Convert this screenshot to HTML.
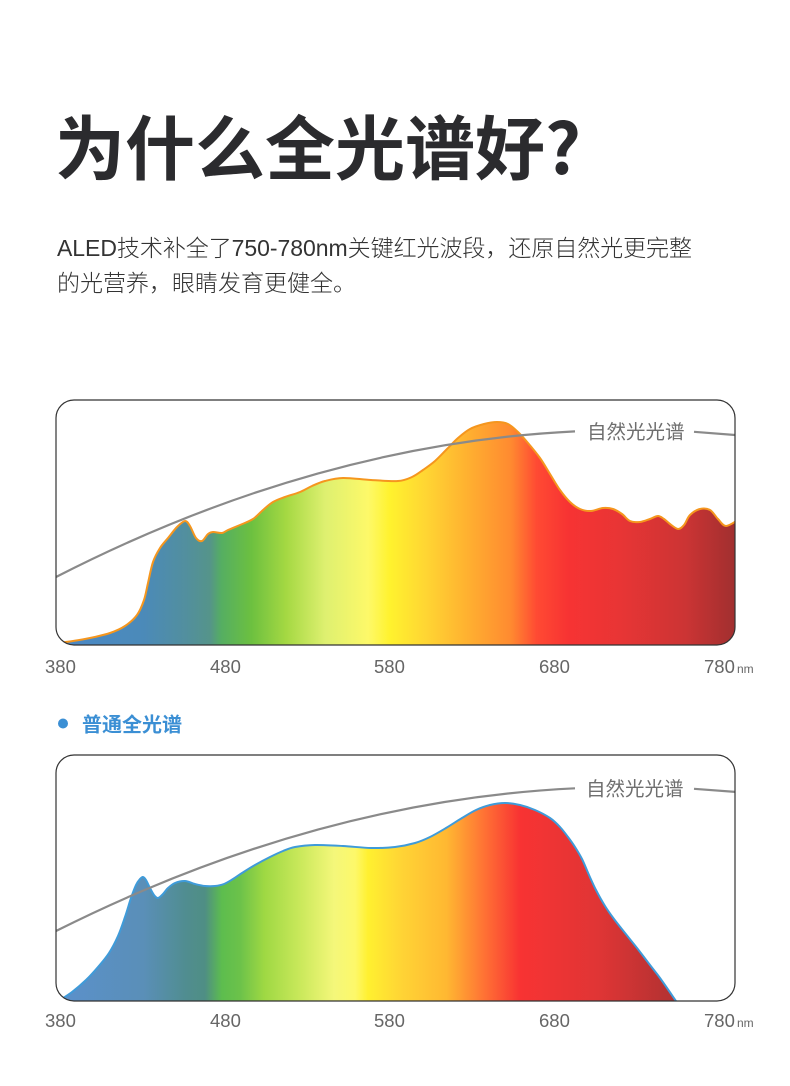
<!DOCTYPE html>
<html>
<head>
<meta charset="utf-8">
<style>
  html,body{margin:0;padding:0;background:#fff;}
  body{width:790px;height:1086px;overflow:hidden;}
  svg{display:block;}
  .cjk{font-family:"Liberation Sans","Noto Sans CJK SC",sans-serif;}
  .title{font-family:"Noto Sans CJK SC","Liberation Sans",sans-serif;font-weight:700;}
  .ax{font-family:"Liberation Sans","Noto Sans CJK SC",sans-serif;fill:#666;}
</style>
</head>
<body>
<svg width="790" height="1086" viewBox="0 0 790 1086" xmlns="http://www.w3.org/2000/svg">
  <defs>
    <linearGradient id="g1" gradientUnits="userSpaceOnUse" x1="56" y1="0" x2="736" y2="0">
      <stop offset="0" stop-color="#4a88c8"/>
      <stop offset="0.128" stop-color="#4b8ab9"/>
      <stop offset="0.191" stop-color="#528f9e"/>
      <stop offset="0.226" stop-color="#55948a"/>
      <stop offset="0.243" stop-color="#55ae62"/>
      <stop offset="0.287" stop-color="#6cc040"/>
      <stop offset="0.338" stop-color="#a4d842"/>
      <stop offset="0.396" stop-color="#def070"/>
      <stop offset="0.459" stop-color="#fdf969"/>
      <stop offset="0.491" stop-color="#fff22e"/>
      <stop offset="0.543" stop-color="#ffd633"/>
      <stop offset="0.606" stop-color="#ffb030"/>
      <stop offset="0.669" stop-color="#ff8a30"/>
      <stop offset="0.707" stop-color="#ff4a33"/>
      <stop offset="0.753" stop-color="#f73333"/>
      <stop offset="0.829" stop-color="#e83535"/>
      <stop offset="0.925" stop-color="#cc3434"/>
      <stop offset="1" stop-color="#a02f2f"/>
    </linearGradient>
    <linearGradient id="g2" gradientUnits="userSpaceOnUse" x1="56" y1="0" x2="736" y2="0">
      <stop offset="0" stop-color="#5b90cc"/>
      <stop offset="0.128" stop-color="#5a8fb8"/>
      <stop offset="0.191" stop-color="#508d90"/>
      <stop offset="0.219" stop-color="#4f8e84"/>
      <stop offset="0.244" stop-color="#5dbd4e"/>
      <stop offset="0.271" stop-color="#6cc24a"/>
      <stop offset="0.306" stop-color="#9ed843"/>
      <stop offset="0.357" stop-color="#c8e85a"/>
      <stop offset="0.409" stop-color="#f4f77a"/>
      <stop offset="0.44" stop-color="#fdf86a"/>
      <stop offset="0.459" stop-color="#fff030"/>
      <stop offset="0.51" stop-color="#ffd335"/>
      <stop offset="0.574" stop-color="#ffb832"/>
      <stop offset="0.631" stop-color="#ff7034"/>
      <stop offset="0.682" stop-color="#f83333"/>
      <stop offset="0.797" stop-color="#e03535"/>
      <stop offset="0.893" stop-color="#b83232"/>
      <stop offset="1" stop-color="#a02f2f"/>
    </linearGradient>
    <clipPath id="c1"><rect x="56" y="400" width="679" height="245" rx="18" ry="18"/></clipPath>
    <clipPath id="c2"><rect x="56" y="755" width="679" height="246" rx="18" ry="18"/></clipPath>
  </defs>

  <!-- Title -->
  <text class="title" x="55" y="174" font-size="70" fill="#2b2b2e">为什么全光谱好?</text>

  <!-- Paragraph -->
  <text class="cjk" x="57" y="256" font-size="23" font-weight="300" fill="#333" textLength="635" lengthAdjust="spacing">ALED技术补全了750-780nm关键红光波段，还原自然光更完整</text>
  <text class="cjk" x="57" y="291" font-size="23" font-weight="300" fill="#333">的光营养，眼睛发育更健全。</text>

  <!-- Chart 1 -->
  <g clip-path="url(#c1)">
    <path id="f1" fill="url(#g1)" d="M56,646 L58,643 L738,520 L738,646 Z"/>
    <path id="s1" fill="none" stroke="#f5961e" stroke-width="2" stroke-linejoin="round" d="M58,643 L73,641 L90,638 L110,633 L125,626 L137,615 L144,600 L148,583 L153,562 L160,548 L168,538 L177,527 L185,521 L190,526 L196,538 L202,541 L208,534 L213,532 L222,533 L228,530 L240,525 L253,519 L263,510 L273,502 L285,497 L300,492 L312,486 L325,481 L343,478 L371,480 L398,481 L412,477 L423,470 L435,461 L447,449 L458,438 L470,429 L484,424 L497,422 L508,424 L518,432 L528,443 L540,458 L550,474 L560,490 L570,502 L580,509 L591,511 L603,508 L613,509 L622,514 L630,521 L640,522 L650,519 L658,516 L664,519 L670,524 L678,529 L684,525 L690,515 L700,509 L710,510 L718,519 L726,526 L738,520"/>
    <path fill="none" stroke="#8a8a8a" stroke-width="2.2" d="M56,577 Q315.5,444.1 575,431.35"/>
    <path fill="none" stroke="#8a8a8a" stroke-width="2.2" d="M694,431.8 L738,435.2"/>
  </g>
  <rect x="56" y="400" width="679" height="245" rx="18" ry="18" fill="none" stroke="#333" stroke-width="1.2"/>
  <text class="cjk" x="587" y="438.5" font-size="19.5" fill="#6e6e6e">自然光光谱</text>

  <text class="ax" x="45" y="673" font-size="18.5">380</text>
  <text class="ax" x="210" y="673" font-size="18.5">480</text>
  <text class="ax" x="374" y="673" font-size="18.5">580</text>
  <text class="ax" x="539" y="673" font-size="18.5">680</text>
  <text class="ax" x="704" y="673" font-size="18.5">780</text>
  <text class="ax" x="737" y="673" font-size="12">nm</text>

  <!-- Legend -->
  <circle cx="63" cy="723.5" r="5" fill="#3b8fd4"/>
  <text class="cjk" x="82" y="731.5" font-size="20" font-weight="700" fill="#3b8fd4">普通全光谱</text>

  <!-- Chart 2 -->
  <g clip-path="url(#c2)">
    <path id="f2" fill="url(#g2)" d="M56,1002 L60,1000 L676,1001 L736,1002 Z"/>
    <path id="s2" fill="none" stroke="#3f9bd9" stroke-width="2" stroke-linejoin="round" d="M60,1000 L72,992 L86,980 L98,967 L109,953 L118,936 L125,917 L131,898 L136,885 L140,879 L143,877 L146,880 L150,888 L154,895 L158,898 L163,894 L168,888 L175,883 L185,881 L195,884 L205,886 L215,886 L224,884 L233,879 L242,873 L255,865 L270,857 L283,851 L295,847 L315,845 L343,846 L371,848 L395,847 L415,843 L430,837 L446,828 L462,818 L476,810 L490,805 L505,803 L520,805 L535,810 L550,818 L560,827 L568,837 L575,847 L582,859 L589,875 L596,890 L605,906 L614,919 L625,933 L637,948 L650,965 L660,978 L676,1001"/>
    <path fill="none" stroke="#8a8a8a" stroke-width="2.2" d="M56,931 Q315.5,800.8 575,788.3"/>
    <path fill="none" stroke="#8a8a8a" stroke-width="2.2" d="M694,788.8 L738,792.1"/>
  </g>
  <rect x="56" y="755" width="679" height="246" rx="18" ry="18" fill="none" stroke="#333" stroke-width="1.2"/>
  <text class="cjk" x="586" y="795.5" font-size="19.5" fill="#6e6e6e">自然光光谱</text>

  <text class="ax" x="45" y="1027" font-size="18.5">380</text>
  <text class="ax" x="210" y="1027" font-size="18.5">480</text>
  <text class="ax" x="374" y="1027" font-size="18.5">580</text>
  <text class="ax" x="539" y="1027" font-size="18.5">680</text>
  <text class="ax" x="704" y="1027" font-size="18.5">780</text>
  <text class="ax" x="737" y="1027" font-size="12">nm</text>
</svg>
<script>
(function(){
  function pts(d){
    var n=d.match(/-?\d+(\.\d+)?/g).map(Number),p=[];
    for(var i=0;i+1<n.length;i+=2)p.push([n[i],n[i+1]]);
    return p;
  }
  function cr(p){
    var d='M'+p[0][0]+','+p[0][1];
    for(var i=0;i<p.length-1;i++){
      var p0=p[i-1]||p[i],p1=p[i],p2=p[i+1],p3=p[i+2]||p2;
      var c1x=p1[0]+(p2[0]-p0[0])/6,c1y=p1[1]+(p2[1]-p0[1])/6;
      var c2x=p2[0]-(p3[0]-p1[0])/6,c2y=p2[1]-(p3[1]-p1[1])/6;
      d+=' C'+c1x.toFixed(2)+','+c1y.toFixed(2)+' '+c2x.toFixed(2)+','+c2y.toFixed(2)+' '+p2[0]+','+p2[1];
    }
    return d;
  }
  var s1=document.getElementById('s1'),s2=document.getElementById('s2');
  var a=pts(s1.getAttribute('d')),b=pts(s2.getAttribute('d'));
  var d1=cr(a),d2=cr(b);
  document.getElementById('f1').setAttribute('d',d1+' L738,646 L56,646 Z');
  s1.setAttribute('d',d1);
  document.getElementById('f2').setAttribute('d',d2+' L736,1002 L56,1002 Z');
  s2.setAttribute('d',d2);
})();
</script>
</body>
</html>
